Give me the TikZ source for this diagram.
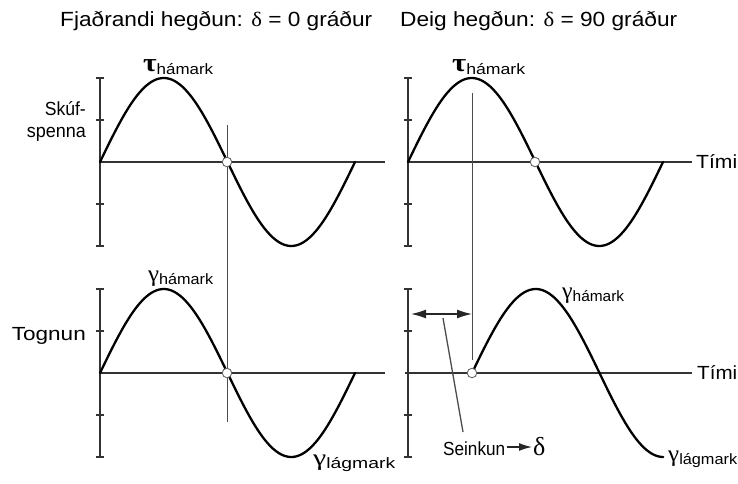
\documentclass[tikz,border=0pt]{standalone}
\usepackage{fontspec}
\setmainfont{Liberation Sans}
\newfontfamily\grk{Liberation Serif}
\usetikzlibrary{arrows.meta}
\newcommand{\fitw}[2]{\resizebox{#1pt}{\height}{#2}}
\newcommand{\gsym}[4]{{\fontsize{#1}{#1}\selectfont\grk #4#2}{\fontsize{15}{16}\selectfont\raisebox{-3pt}{#3}}}
\tikzset{
  axis/.style={draw=black!80, line width=1.4pt},
  tick/.style={draw=black!80, line width=1.4pt},
  wave/.style={draw=black, line width=2.3pt, line cap=round},
  guide/.style={draw=black!70, line width=1pt},
  zero/.style={circle, draw=black!60, fill=white, line width=0.9pt, minimum size=9.5pt, inner sep=0pt},
  lbl/.style={anchor=base west, inner sep=0pt, font=\fontsize{19}{22}\selectfont},
  lblr/.style={anchor=base east, inner sep=0pt, font=\fontsize{19}{22}\selectfont},
}
\begin{document}
\begin{tikzpicture}[x=1pt,y=-1pt]
\useasboundingbox (0,0) rectangle (738,483);
% titles
\node[lbl] (title1) at (60,26) {\fitw{312}{\fontsize{20.5}{24}\selectfont Fjaðrandi hegðun: {\grk δ} = 0 gráður}};
\node[lbl] (title2) at (400,26) {\fitw{277}{\fontsize{20.5}{24}\selectfont Deig hegðun: {\grk δ} = 90 gráður}};
% side labels
\node[lblr] (sk1) at (86,115) {\fitw{41}{Skúf-}};
\node[lblr] (sk2) at (86,137) {\fitw{59}{spenna}};
\node[lblr] (tog) at (86,340) {\fitw{74}{Tognun}};
\node[lbl] (time1) at (696,168) {\fitw{41}{Tími}};
\node[lbl] (time2) at (697,379) {\fitw{40}{Tími}};
% axes
\foreach \ox/\oy/\ex in {100/162/385, 408/162/692, 100/373/385, 405/373/692}{
  \draw[axis] (\ox,\oy) -- (\ex,\oy);
}
\foreach \ox/\oy in {100/162, 408/162, 100/373, 408/373}{
  \draw[axis] (\ox,\oy-84) -- (\ox,\oy+84);
  \foreach \t in {-84,-42,42,84}{ \draw[tick] (\ox-4,\oy+\t) -- (\ox+4,\oy+\t); }
}
% guide lines
\coordinate (g1top) at (227,125);
\coordinate (g1bot) at (227,422);
\draw[guide] (g1top) -- (g1bot);
\coordinate (g2top) at (472,93);
\coordinate (g2bot) at (472,360);
\draw[guide] (g2top) -- (g2bot);
% waves
\draw[wave] plot[domain=0:360, samples=91, smooth] ({100+\x*0.708333},{162-84*sin(\x)});
\draw[wave] plot[domain=0:360, samples=91, smooth] ({100+\x*0.708333},{373-84*sin(\x)});
\draw[wave] plot[domain=0:360, samples=91, smooth] ({408+\x*0.708333},{162-84*sin(\x)});
\draw[wave] plot[domain=0:270, samples=71, smooth] ({472+\x*0.708333},{373-84*sin(\x)});
% zero crossings
\node[zero] (z1) at (227,162) {};
\node[zero] (z2) at (227,373) {};
\node[zero] (z3) at (535,162) {};
\node[zero] (z4) at (472,373) {};
% peak labels
\node[lbl] (tau1) at (143,71) {\fitw{70}{\gsym{26}{τ}{hámark}{\bfseries}}};
\node[lbl] (tau2) at (452,71) {\fitw{73}{\gsym{26}{τ}{hámark}{\bfseries}}};
\node[lbl] (gam1) at (148,281) {\fitw{65}{\gsym{23}{γ}{hámark}{}}};
\node[lbl] (gam2) at (562,298) {\fitw{62}{\gsym{23}{γ}{hámark}{}}};
\node[lbl] (gam3) at (313,465) {\fitw{82}{\gsym{23}{γ}{lágmark}{}}};
\node[lbl] (gam4) at (668,461) {\fitw{69}{\gsym{23}{γ}{lágmark}{}}};
% delay arrow
\coordinate (dl) at (411,314);
\coordinate (dr) at (472,314);
\draw[draw=black!85, line width=1.4pt, {Latex[length=15pt,width=9pt]}-{Latex[length=15pt,width=9pt]}] (dl) -- (dr);
\coordinate (ltop) at (443,318);
\coordinate (lbot) at (463,432);
\draw[guide, line width=1.3pt] (ltop) -- (lbot);
\node[lbl] (sein) at (443,455) {\fitw{62}{Seinkun}};
\node[lbl] (dlt) at (533,455) {{\fontsize{26}{26}\selectfont\grk δ}};
\coordinate (sa) at (507,447);
\coordinate (sb) at (532,447);
\draw[draw=black!85, line width=1.3pt, -{Latex[length=13pt,width=8pt]}] (sa) -- (sb);
\end{tikzpicture}
\end{document}
